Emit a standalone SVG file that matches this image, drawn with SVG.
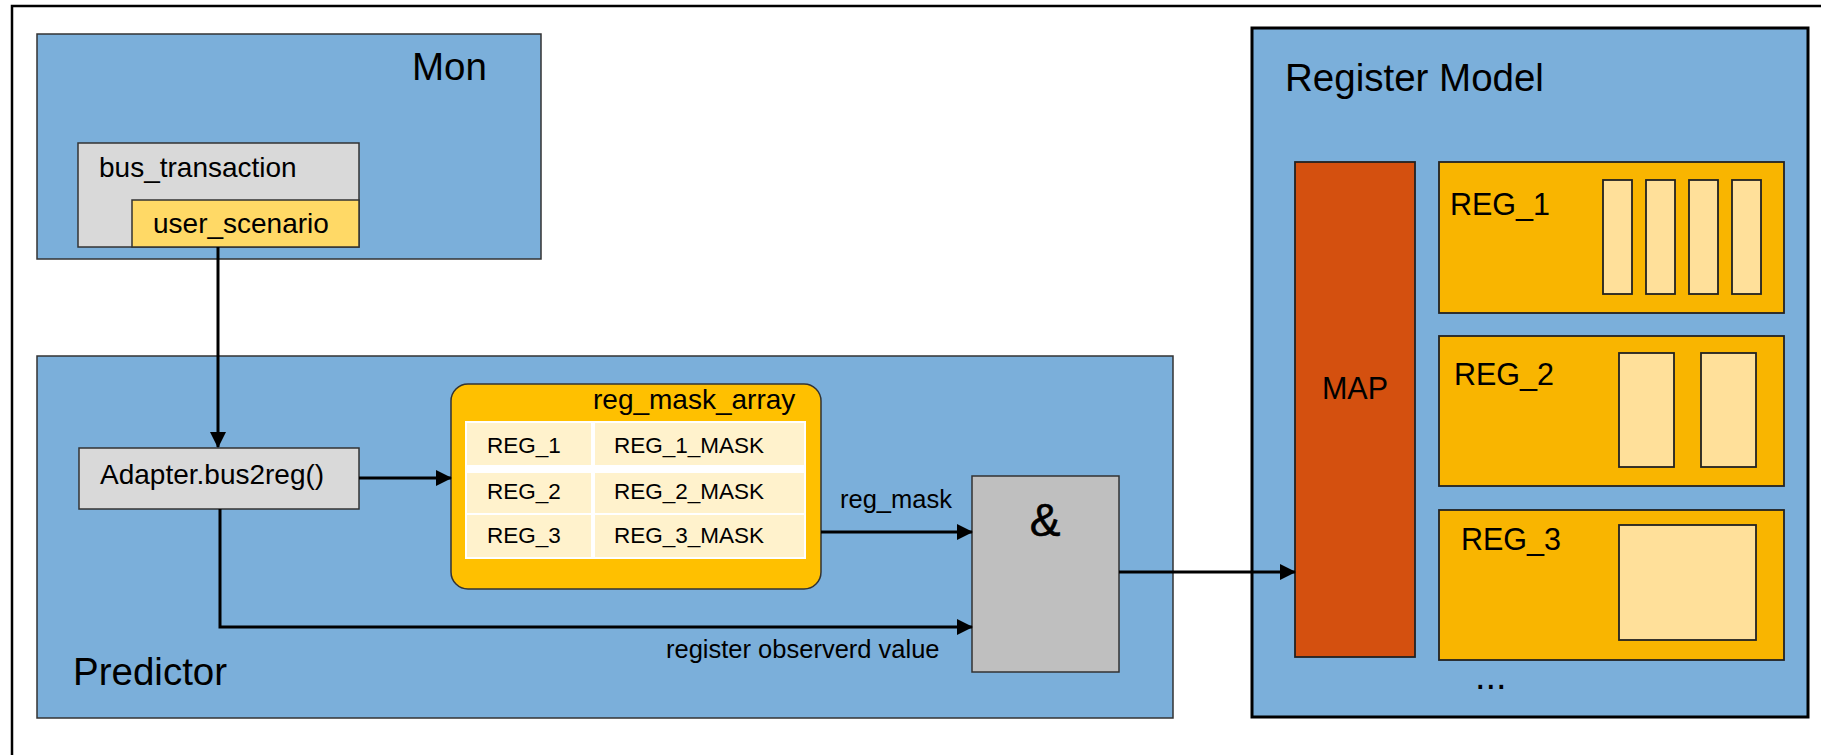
<svg xmlns="http://www.w3.org/2000/svg" width="1821" height="755" viewBox="0 0 1821 755">
<style>
text{font-family:"Liberation Sans",Arial,sans-serif;fill:#000}
.blue{fill:#7BAFDA;stroke:#333;stroke-width:1.5}
.gray{fill:#D9D9D9;stroke:#333;stroke-width:1.5}
.yel{fill:#FFD966;stroke:#333;stroke-width:1.5}
.reg{fill:#F9B500;stroke:#222;stroke-width:1.8}
.slot{fill:#FFE09A;stroke:#222;stroke-width:1.8}
.cell{fill:#FFF2CC}
.big{font-size:38.5px}
.mid{font-size:28px}
.sm{font-size:22.5px}
.lbl{font-size:25.5px}
.rn{font-size:30.5px}
.conn{fill:none;stroke:#000;stroke-width:3}
</style>
<defs>
<marker id="ah" markerUnits="userSpaceOnUse" markerWidth="16" markerHeight="16" refX="15" refY="8" orient="auto">
<path d="M0,0 L16,8 L0,16 z" fill="#000"/>
</marker>
</defs>
<rect width="1821" height="755" fill="#fff"/>
<rect x="12" y="6" width="1830" height="770" fill="none" stroke="#000" stroke-width="2.5"/>

<g id="mon">
<rect class="blue" x="37" y="34" width="504" height="225"/>
<text class="big" x="412" y="80">Mon</text>
</g>
<g id="bus_transaction">
<rect class="gray" x="78" y="143" width="281" height="104"/>
<text class="mid" x="99" y="177">bus_transaction</text>
</g>
<g id="user_scenario">
<rect class="yel" x="132" y="200" width="227" height="47"/>
<text class="mid" x="153" y="233">user_scenario</text>
</g>

<g id="predictor">
<rect class="blue" x="37" y="356" width="1136" height="362"/>
<text class="big" x="73" y="685">Predictor</text>
</g>
<g id="adapter">
<rect class="gray" x="79" y="448" width="280" height="61"/>
<text class="mid" x="100" y="484">Adapter.bus2reg()</text>
</g>
<g id="reg_mask_array">
<rect x="451" y="384" width="370" height="205" rx="17" ry="17" fill="#FFC000" stroke="#333" stroke-width="1.5"/>
<text class="mid" x="593" y="409">reg_mask_array</text>
<rect x="465" y="421" width="341" height="138" fill="#fff"/>
<rect class="cell" x="467" y="423" width="124" height="42"/>
<rect class="cell" x="595" y="423" width="209" height="42"/>
<rect class="cell" x="467" y="473" width="124" height="40"/>
<rect class="cell" x="595" y="473" width="209" height="40"/>
<rect class="cell" x="467" y="515" width="124" height="42"/>
<rect class="cell" x="595" y="515" width="209" height="42"/>
<text class="sm" x="487" y="453">REG_1</text>
<text class="sm" x="614" y="453">REG_1_MASK</text>
<text class="sm" x="487" y="499">REG_2</text>
<text class="sm" x="614" y="499">REG_2_MASK</text>
<text class="sm" x="487" y="543">REG_3</text>
<text class="sm" x="614" y="543">REG_3_MASK</text>
</g>
<g id="and">
<rect x="972" y="476" width="147" height="196" fill="#BFBFBF" stroke="#333" stroke-width="1.5"/>
<text x="1045" y="536" font-size="46" text-anchor="middle" stroke="#000" stroke-width="0.6">&amp;</text>
</g>

<g id="register_model">
<rect x="1252" y="28" width="556" height="689" fill="#7BAFDA" stroke="#000" stroke-width="3"/>
<text class="big" x="1285" y="91">Register Model</text>
</g>
<g id="map">
<rect x="1295" y="162" width="120" height="495" fill="#D4500F" stroke="#222" stroke-width="1.8"/>
<text class="rn" x="1355" y="399" text-anchor="middle">MAP</text>
</g>
<g id="reg1">
<rect class="reg" x="1439" y="162" width="345" height="151"/>
<text class="rn" x="1450" y="215">REG_1</text>
<rect class="slot" x="1603" y="180" width="29" height="114"/>
<rect class="slot" x="1646" y="180" width="29" height="114"/>
<rect class="slot" x="1689" y="180" width="29" height="114"/>
<rect class="slot" x="1732" y="180" width="29" height="114"/>
</g>
<g id="reg2">
<rect class="reg" x="1439" y="336" width="345" height="150"/>
<text class="rn" x="1454" y="385">REG_2</text>
<rect class="slot" x="1619" y="353" width="55" height="114"/>
<rect class="slot" x="1701" y="353" width="55" height="114"/>
</g>
<g id="reg3">
<rect class="reg" x="1439" y="510" width="345" height="150"/>
<text class="rn" x="1461" y="550">REG_3</text>
<rect class="slot" x="1619" y="525" width="137" height="115"/>
</g>
<text x="1475" y="689" font-size="38">...</text>

<g id="connectors">
<path class="conn" d="M218,247 V447" marker-end="url(#ah)"/>
<path class="conn" d="M359,478 H451" marker-end="url(#ah)"/>
<path class="conn" d="M821,532 H972" marker-end="url(#ah)"/>
<path class="conn" d="M220,509 V627 H972" marker-end="url(#ah)"/>
<path class="conn" d="M1119,572 H1295" marker-end="url(#ah)"/>
<text class="lbl" x="840" y="508">reg_mask</text>
<text class="lbl" x="666" y="658">register observerd value</text>
</g>
</svg>
